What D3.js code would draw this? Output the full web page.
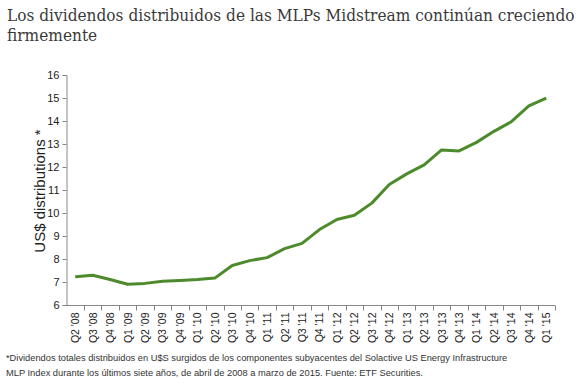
<!DOCTYPE html>
<html>
<head>
<meta charset="utf-8">
<script src="https://cdn.jsdelivr.net/npm/d3@7"></script>
<style>
  body { margin: 0; background: #fff; }
  svg text { font-family: "Liberation Sans", Arial, sans-serif; }
  svg text.title { font-family: "DejaVu Serif", Georgia, serif; fill: #3a3a3a; }
</style>
</head>
<body>
<div id="chart"></div>
<script>
const quarters = ["Q2 '08","Q3 '08","Q4 '08","Q1 '09","Q2 '09","Q3 '09","Q4 '09","Q1 '10","Q2 '10","Q3 '10","Q4 '10","Q1 '11","Q2 '11","Q3 '11","Q4 '11","Q1 '12","Q2 '12","Q3 '12","Q4 '12","Q1 '13","Q2 '13","Q3 '13","Q4 '13","Q1 '14","Q2 '14","Q3 '14","Q4 '14","Q1 '15"]
const distributions = [7.23,7.29,7.11,6.9,6.94,7.03,7.07,7.11,7.17,7.72,7.93,8.06,8.45,8.68,9.28,9.72,9.9,10.43,11.24,11.7,12.09,12.74,12.7,13.07,13.55,13.97,14.66,14.99]
const yTicks = [6,7,8,9,10,11,12,13,14,15,16]

const titleLines = ["Los dividendos distribuidos de las MLPs Midstream continúan creciendo", "firmemente"]
const noteLines = ["*Dividendos totales distribuidos en U$S surgidos de los componentes subyacentes del Solactive US Energy Infrastructure",
  "MLP Index durante los últimos siete años, de abril de 2008 a marzo de 2015. Fuente: ETF Securities."]

let width = 587, height = 391

let svg = d3.select('#chart').append('svg')
.attr('width', width)
.attr('height', height)

// title (squeezed horizontally so the first line fits like the original)
let titleG = svg.append('g')
titleG.selectAll('text')
.data(titleLines)
.enter()
.append('text')
.attr('class', 'title')
.attr('x', 0)
.attr('y', (d, i) => 21 + i * 20)
.style('font-size', '17.5px')
.text(d => d)
let titleLen = titleG.select('text').node().getComputedTextLength()
titleG.attr('transform', `translate(7,0) scale(${568 / titleLen},1)`)

let x = d3.scaleBand()
.domain(quarters)
.range([66.5, 555])

let y = d3.scaleLinear()
.domain([6, 16])
.range([305, 75])

// y axis
let yAxis = svg.append('g')
.attr('transform', 'translate(66.5,0)')
.call(d3.axisLeft(y).tickValues(yTicks).tickSize(4).tickPadding(3))
yAxis.selectAll('path, line').attr('stroke', '#868686')
yAxis.selectAll('text').attr('fill', '#222').style('font-size', '11px')

// x axis: ticks sit between categories
let xAxis = svg.append('g')
.attr('transform', 'translate(0,305.5)')
xAxis.append('line')
.attr('x1', 66.5).attr('x2', 555)
.attr('stroke', '#868686')
xAxis.selectAll('.tk')
.data(quarters)
.enter()
.append('line')
.attr('x1', d => Math.round(x(d) + x.bandwidth()) + 0.5)
.attr('x2', d => Math.round(x(d) + x.bandwidth()) + 0.5)
.attr('y1', 0).attr('y2', 5)
.attr('stroke', '#868686')
xAxis.selectAll('text')
.data(quarters)
.enter()
.append('text')
.attr('transform', d => `translate(${x(d) + x.bandwidth() / 2 + 4},7) rotate(-90)`)
.attr('text-anchor', 'end')
.attr('fill', '#222')
.style('font-size', '10.5px')
.text(d => d)

// y axis title
svg.append('text')
.attr('transform', 'translate(45,191) rotate(-90)')
.attr('text-anchor', 'middle')
.attr('fill', '#222')
.style('font-size', '15px')
.text('US$ distributions *')

// the line
let line = d3.line()
.x((d, i) => x(quarters[i]) + x.bandwidth() / 2)
.y(d => y(d))

svg.append('path')
.datum(distributions)
.attr('d', line)
.attr('fill', 'none')
.attr('stroke', '#4d8a2b')
.attr('stroke-width', 3)
.attr('stroke-linejoin', 'round')

// footnote
svg.append('g').selectAll('text')
.data(noteLines)
.enter()
.append('text')
.attr('x', 6)
.attr('y', (d, i) => 361 + i * 15)
.attr('fill', '#333')
.style('font-size', '9.3px')
.text(d => d)
</script>
</body>
</html>
